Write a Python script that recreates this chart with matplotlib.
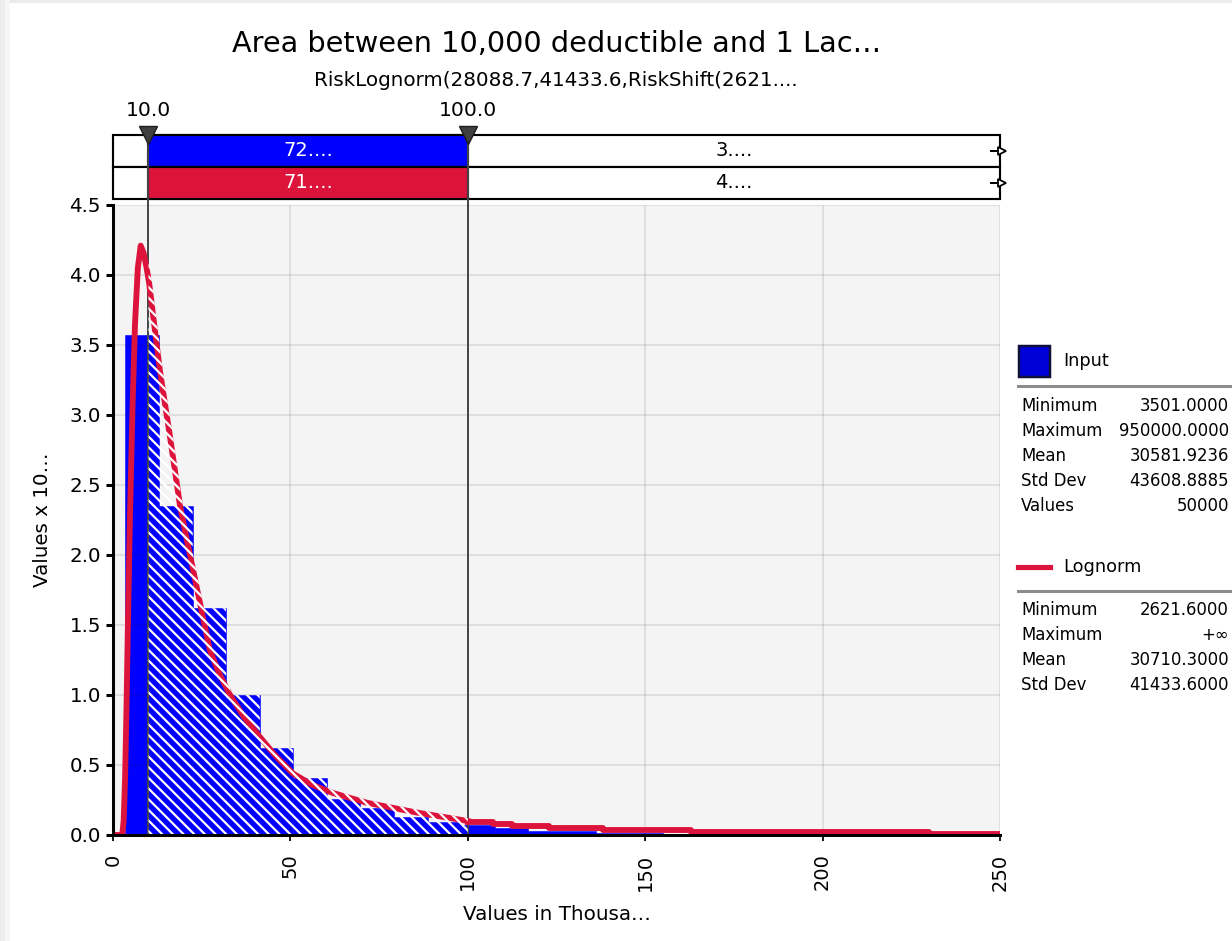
import numpy as np
import matplotlib
matplotlib.use('Agg')
import matplotlib.pyplot as plt
from matplotlib.patches import Rectangle
from matplotlib.lines import Line2D
from matplotlib.transforms import blended_transform_factory

W, H, DPI = 1232, 941, 128
plt.rcParams['font.family'] = ['DejaVu Sans']
plt.rcParams['hatch.linewidth'] = 1.25

# ---- values ----
title = 'Area between 10,000 deductible and 1 Lac…'
subtitle = 'RiskLognorm(28088.7,41433.6,RiskShift(2621....'
xlabel = 'Values in Thousa…'
ylabel = 'Values x 10…'
lo_mark, hi_mark = 10.0, 100.0
row_labels_in = ['72....', '71....']
row_labels_out = ['3....', '4....']
row_colors = ['#0000ff', '#dc143c']

# histogram (thousands), density x 1e-5
bin_start = 3.501
bin_width = 9.465
hist_heights = [3.57, 2.35, 1.62, 1.00, 0.62, 0.41, 0.26, 0.19, 0.13, 0.09,
                0.07, 0.05, 0.032, 0.028, 0.015, 0.012, 0.010, 0.008, 0.007,
                0.006, 0.005, 0.005, 0.004, 0.004, 0.003, 0.003, 0.003]

# fitted lognormal curve
curve_x = [0, 2.6, 3.0, 3.4, 3.8, 4.2, 4.8, 5.5, 6.2, 7.0, 7.8, 8.6, 9.4, 10.2,
           11.7, 13.2, 16.1, 18.9, 20.8, 24.0, 27.3, 30.0, 33.0, 37.0, 41.4,
           46.0, 50.7, 56.0, 62.0, 71.6, 85.7, 100.0]
curve_y = [0, 0, 0.10, 0.40, 0.90, 1.50, 2.30, 3.05, 3.65, 4.05, 4.21, 4.16,
           4.06, 3.94, 3.63, 3.32, 2.84, 2.35, 2.11, 1.72, 1.32, 1.15, 1.00,
           0.84, 0.70, 0.56, 0.44, 0.36, 0.30, 0.23, 0.16, 0.10]
tail_x = [100, 107, 112.5, 123, 138, 163, 230, 250]
tail_y = [0.095, 0.08, 0.067, 0.048, 0.036, 0.021, 0.007, 0.007]

input_stats = [('Minimum', '3501.0000'), ('Maximum', '950000.0000'),
               ('Mean', '30581.9236'), ('Std Dev', '43608.8885'),
               ('Values', '50000')]
fit_stats = [('Minimum', '2621.6000'), ('Maximum', '+∞'),
             ('Mean', '30710.3000'), ('Std Dev', '41433.6000')]

xticks = [0, 50, 100, 150, 200, 250]
yticks = [0, 0.5, 1.0, 1.5, 2.0, 2.5, 3.0, 3.5, 4.0, 4.5]
xmax, ymax = 250, 4.5

BLUE = '#0000ff'
RED = '#dc143c'
HATCH = chr(92) * 4   # dense backslash hatch
CURVE_LW = 3.3


def px_box(l, t, r, b):
    return [l / W, 1 - b / H, (r - l) / W, (b - t) / H]


fig = plt.figure(figsize=(W / DPI, H / DPI), dpi=DPI)

# ---- main plot ----
ax = fig.add_axes(px_box(113, 205, 1000, 835))
ax.set_facecolor('#f4f4f4')
ax.set_xlim(0, xmax)
ax.set_ylim(0, ymax)

edges = bin_start + bin_width * np.arange(len(hist_heights))
ax.bar(edges, hist_heights, width=bin_width, align='edge', color=BLUE,
       edgecolor=BLUE, lw=0.3, zorder=1)
ax.axvline(lo_mark, color='#454545', lw=1.1, zorder=2.6)
ax.axvline(hi_mark, color='#454545', lw=1.1, zorder=2.6)
ax.plot(curve_x, curve_y, color=RED, lw=CURVE_LW, zorder=3, solid_joinstyle='round')
ax.plot(tail_x, tail_y, color=RED, lw=CURVE_LW, zorder=3, drawstyle='steps-post')

# hatch over the selected range (bars and curve stroke)
px_x = 887 / xmax
px_y = 630 / ymax
xs = np.linspace(lo_mark, hi_mark, 1500)
cy = np.interp(xs, curve_x, curve_y)
slope = np.gradient(cy, xs) * px_y / px_x
margin = 3.0 * np.sqrt(1 + slope ** 2) / px_y
idx = np.clip(((xs - bin_start) // bin_width).astype(int), 0, len(hist_heights) - 1)
top = np.maximum(cy + margin, np.array(hist_heights)[idx])
ax.fill_between(xs, 0, top, facecolor='none', edgecolor='white',
                hatch=HATCH, lw=0, zorder=4)

ax.grid(True, color='black', alpha=0.1, lw=0.9)
ax.set_axisbelow(False)
for s in ['top', 'right']:
    ax.spines[s].set_visible(False)
for s in ['left', 'bottom']:
    ax.spines[s].set_linewidth(1.7)
    ax.spines[s].set_zorder(5)

ax.set_xticks(xticks)
ax.set_xticklabels([str(t) for t in xticks], rotation=90, fontsize=11)
ax.set_yticks(yticks)
ax.set_yticklabels(['%.1f' % t for t in yticks], fontsize=11.2)
ax.tick_params(axis='y', length=4, width=1.7, pad=2.8)
ax.tick_params(axis='x', length=3.4, width=1.0, pad=7)
ax.set_xlabel(xlabel, fontsize=11.2, labelpad=8)
ax.set_ylabel(ylabel, fontsize=11.2, labelpad=10)

# ---- the two summary rows on top ----
axb = fig.add_axes(px_box(113, 135, 1000, 199))
axb.set_xlim(0, xmax)
axb.set_ylim(0, 2)
axb.axis('off')
for i in range(2):
    y0 = 1 - i
    axb.add_patch(Rectangle((0, y0), xmax, 1, fc='white', ec='black', lw=1.2, clip_on=False))
    axb.add_patch(Rectangle((lo_mark, y0), hi_mark - lo_mark, 1, fc=row_colors[i],
                            ec='black', lw=1.2, clip_on=False))
    axb.text((lo_mark + hi_mark) / 2, y0 + 0.5, row_labels_in[i], color='white',
             ha='center', va='center', fontsize=11)
    axb.text((hi_mark + xmax) / 2, y0 + 0.5, row_labels_out[i], color='black',
             ha='center', va='center', fontsize=11)
    axb.plot([xmax - 2.6, xmax - 0.6], [y0 + 0.5] * 2, color='black', lw=1.1, clip_on=False)
    axb.plot([xmax + 0.7], [y0 + 0.5], marker='>', ms=4.6, mfc='white', mec='black',
             mew=1.0, clip_on=False)

# marker lines, triangles and their labels
tr = blended_transform_factory(ax.transData, fig.transFigure)
for m in [lo_mark, hi_mark]:
    fig.add_artist(Line2D([m, m], [1 - 205 / H, 1 - 130 / H], transform=tr,
                          color='#454545', lw=1.1))
    fig.add_artist(Line2D([m], [1 - 135 / H], transform=tr, marker='v', ms=9.6,
                          mfc='#404040', mec='#202020', mew=0.8))
    fig.text(m, 1 - 111 / H, '%.1f' % m, transform=tr, ha='center', va='center',
             fontsize=11.4)

# ---- titles, legend panel (pixel coordinates) ----
axl = fig.add_axes([0, 0, 1, 1], zorder=5)
axl.set_xlim(0, W)
axl.set_ylim(H, 0)
axl.axis('off')
axl.add_patch(Rectangle((0, 0), W, 3, color='#ebebeb', lw=0))
axl.add_patch(Rectangle((0, 0), 5, H, color='#ededed', lw=0))
axl.add_patch(Rectangle((5, 0), 5, H, color='#f6f6f6', lw=0))
axl.text(557, 44, title, ha='center', va='center', fontsize=16.2)
axl.text(556, 80, subtitle, ha='center', va='center', fontsize=11.2)

axl.add_patch(Rectangle((1019, 346), 31, 31, fc='#0000d8', ec='#10103a', lw=1.4))
axl.text(1063, 361, 'Input', ha='left', va='center', fontsize=10)
axl.plot([1018, 1232], [386, 386], color='#8c8c8c', lw=1.7)
for k, (name, val) in enumerate(input_stats):
    y = 406 + 25 * k
    axl.text(1021, y, name, ha='left', va='center', fontsize=9.3)
    axl.text(1229, y, val, ha='right', va='center', fontsize=9.3)

axl.plot([1018, 1050], [567, 567], color=RED, lw=2.9)
axl.text(1063, 567, 'Lognorm', ha='left', va='center', fontsize=10)
axl.plot([1018, 1232], [591, 591], color='#8c8c8c', lw=1.7)
for k, (name, val) in enumerate(fit_stats):
    y = 610 + 25 * k
    axl.text(1021, y, name, ha='left', va='center', fontsize=9.3)
    axl.text(1229, y, val, ha='right', va='center', fontsize=9.3)

fig.savefig('out.png', dpi=DPI)
